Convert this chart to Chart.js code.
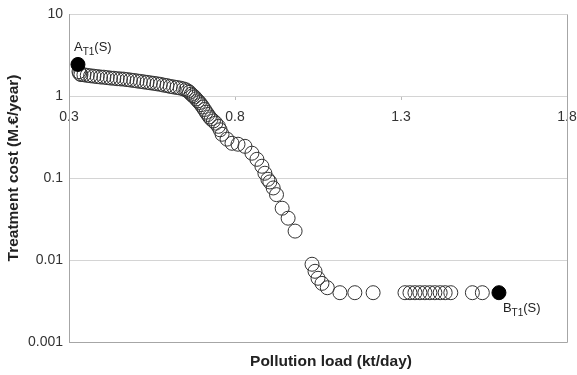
<!DOCTYPE html>
<html>
<head>
<meta charset="utf-8">
<script src="https://cdn.jsdelivr.net/npm/chart.js@4/dist/chart.umd.min.js"></script>
<style>
  html, body { margin: 0; padding: 0; background: #fff; }
  #wrap { width: 577px; height: 375px; }
</style>
</head>
<body>
<div id="wrap"><canvas id="costChart"></canvas></div>
<script>
// Treatment cost vs pollution load
const xLoad = [
  0.330, 0.332, 0.336, 0.345, 0.355, 0.365, 0.375, 0.385, 0.395, 0.405,
  0.415, 0.425, 0.435, 0.445, 0.455, 0.465, 0.475, 0.485, 0.495, 0.505,
  0.515, 0.525, 0.535, 0.545, 0.555, 0.565, 0.575, 0.585, 0.595, 0.605,
  0.615, 0.625, 0.635, 0.645, 0.652, 0.658, 0.663, 0.668, 0.673, 0.678,
  0.683, 0.688, 0.693, 0.698, 0.703, 0.708, 0.713, 0.718, 0.723, 0.728,
  0.735, 0.742, 0.750, 0.755, 0.761, 0.776, 0.791, 0.809, 0.830, 0.851,
  0.866, 0.881, 0.890, 0.899, 0.905, 0.915, 0.925, 0.942, 0.960, 0.981,
  1.032, 1.041, 1.050, 1.062, 1.078, 1.116, 1.161, 1.216,
  1.312, 1.327, 1.342, 1.357, 1.372, 1.387, 1.402, 1.418, 1.433, 1.450,
  1.515, 1.545
];
const yCost = [
  2.00, 1.90, 1.84, 1.83, 1.80, 1.78, 1.76, 1.74, 1.72, 1.71,
  1.69, 1.67, 1.66, 1.64, 1.63, 1.62, 1.60, 1.58, 1.56, 1.54,
  1.52, 1.50, 1.48, 1.46, 1.44, 1.42, 1.40, 1.37, 1.35, 1.32,
  1.30, 1.28, 1.26, 1.23, 1.20, 1.16, 1.12, 1.06, 1.02, 0.98,
  0.93, 0.88, 0.84, 0.79, 0.74, 0.69, 0.64, 0.60, 0.56, 0.53,
  0.50, 0.47, 0.43, 0.39, 0.344, 0.300, 0.267, 0.260, 0.245, 0.202,
  0.170, 0.140, 0.115, 0.097, 0.090, 0.076, 0.063, 0.043, 0.0325, 0.0226,
  0.0089, 0.0073, 0.0060, 0.0052, 0.0046, 0.004, 0.004, 0.004,
  0.004, 0.004, 0.004, 0.004, 0.004, 0.004, 0.004, 0.004, 0.004, 0.004,
  0.004, 0.004
];

// the two end points (filled)
const endLoad = [0.327, 1.595];
const endCost = [2.45, 0.004];
const endNames = ["A", "B"];

const xTicks = [0.3, 0.8, 1.3, 1.8];
const yTicks = [0.001, 0.01, 0.1, 1, 10];

const xTitle = "Pollution load (kt/day)";
const yTitle = "Treatment cost (M.€/year)";

const FONT = "'Liberation Sans', Arial, sans-serif";

// plot frame (right + bottom border) and the two axis titles
const frame = {
  id: "frame",
  beforeDatasetsDraw(chart) {
    const { ctx, chartArea: a } = chart;
    ctx.save();
    ctx.strokeStyle = "#a6a6a6";
    ctx.lineWidth = 1;
    ctx.beginPath();
    ctx.moveTo(a.left, a.bottom + 0.5);
    ctx.lineTo(a.right + 0.5, a.bottom + 0.5);
    ctx.lineTo(a.right + 0.5, a.top);
    ctx.stroke();

    ctx.fillStyle = "#222";
    ctx.font = "bold 15.5px " + FONT;
    ctx.textAlign = "center";
    ctx.textBaseline = "middle";
    ctx.fillText(xTitle, 331, 362);

    ctx.translate(14, 168);
    ctx.rotate(-Math.PI / 2);
    ctx.fillText(yTitle, 0, 0);
    ctx.restore();
  },
};

// "A_T1(S)" / "B_T1(S)" labels next to the filled points
const endLabels = {
  id: "endLabels",
  afterDatasetsDraw(chart) {
    const { ctx, scales } = chart;
    const offsets = [
      { dx: -4, dy: -17 },
      { dx: 4, dy: 16 },
    ];
    ctx.save();
    ctx.fillStyle = "#222";
    ctx.textBaseline = "middle";
    endNames.forEach((name, i) => {
      let px = scales.x.getPixelForValue(endLoad[i]) + offsets[i].dx;
      const py = scales.y.getPixelForValue(endCost[i]) + offsets[i].dy;
      ctx.font = "13px " + FONT;
      ctx.fillText(name, px, py);
      px += ctx.measureText(name).width;
      ctx.font = "10px " + FONT;
      ctx.fillText("T1", px, py + 5);
      px += ctx.measureText("T1").width;
      ctx.font = "13px " + FONT;
      ctx.fillText("(S)", px, py);
    });
    ctx.restore();
  },
};

const ctx = document.getElementById("costChart").getContext("2d");
new Chart(ctx, {
  type: "scatter",
  data: {
    datasets: [
      {
        label: "End points",
        data: endLoad.map((v, i) => ({ x: v, y: endCost[i] })),
        pointRadius: 7,
        pointBackgroundColor: "#000",
        pointBorderColor: "#000",
        pointBorderWidth: 1,
      },
      {
        label: "Solutions",
        data: xLoad.map((v, i) => ({ x: v, y: yCost[i] })),
        pointRadius: 7,
        pointBackgroundColor: "rgba(0,0,0,0)",
        pointBorderColor: "#333",
        pointBorderWidth: 1,
      },
    ],
  },
  options: {
    responsive: true,
    maintainAspectRatio: false,
    animation: false,
    layout: { padding: { top: 6, right: 10, left: 0, bottom: 33 } },
    plugins: {
      legend: { display: false },
      tooltip: { enabled: false },
    },
    scales: {
      x: {
        type: "linear",
        min: 0.3,
        max: 1.8,
        position: { y: 1 },
        afterBuildTicks: (axis) => {
          axis.ticks = xTicks.map((v) => ({ value: v }));
        },
        afterFit: (axis) => {
          axis.paddingLeft = 0;
          axis.paddingRight = 0;
        },
        ticks: {
          callback: (v) => String(v),
          color: "#333",
          font: { family: FONT, size: 14 },
          padding: 8,
          maxRotation: 0,
          autoSkip: false,
        },
        grid: { drawOnChartArea: false, tickLength: 4, color: "#bbb" },
        border: { display: false },
      },
      y: {
        type: "logarithmic",
        min: 0.001,
        max: 10,
        afterBuildTicks: (axis) => {
          axis.ticks = yTicks.map((v) => ({ value: v }));
        },
        afterFit: (axis) => {
          axis.width = 69;
        },
        ticks: {
          callback: (v) => String(v),
          color: "#333",
          font: { family: FONT, size: 14 },
          padding: 6,
        },
        grid: { color: "#d4d4d4", drawTicks: false },
        border: { color: "#a6a6a6" },
      },
    },
  },
  plugins: [frame, endLabels],
});
</script>
</body>
</html>
